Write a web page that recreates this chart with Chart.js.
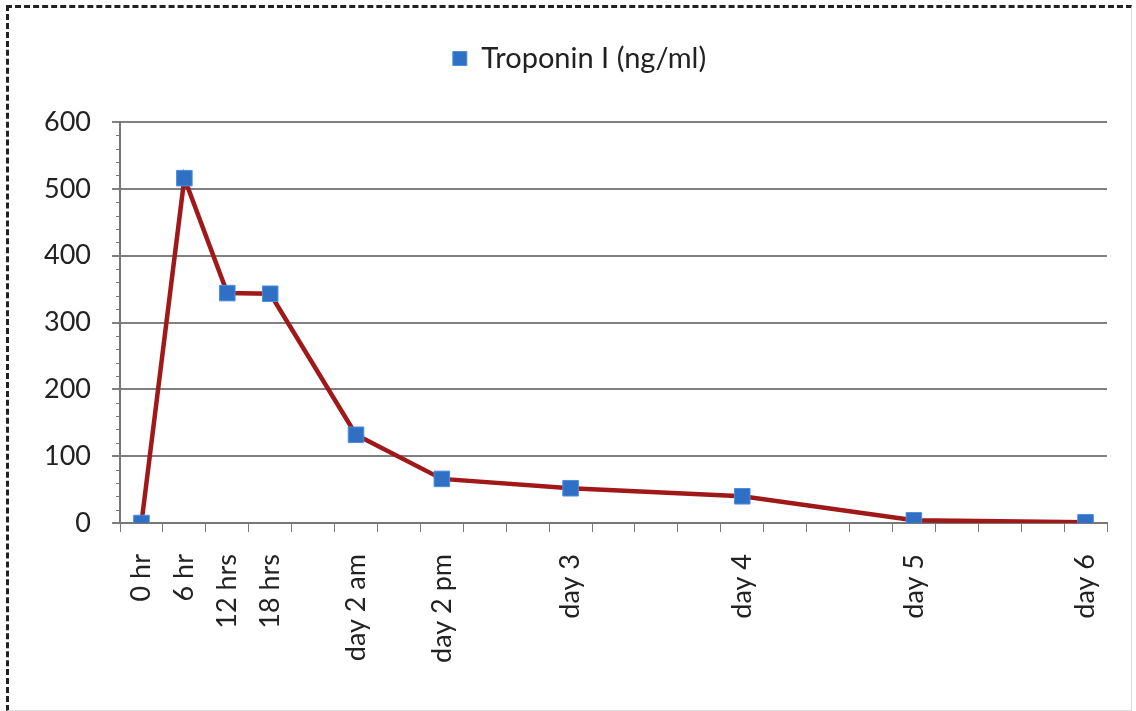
<!DOCTYPE html>
<html>
<head>
<meta charset="utf-8">
<script src="https://cdn.jsdelivr.net/npm/chart.js@4.4.1/dist/chart.umd.min.js"></script>
<style>
  html, body { margin: 0; padding: 0; background: #fff; }
  #wrap { position: relative; width: 1136px; height: 711px; }
  #frame {
    position: absolute; left: 6px; top: 5px; width: 1122px; height: 702px;
    border-top: 3px dashed #222; border-left: 3px dashed #222;
    border-right: 1px solid #ddd; border-bottom: 1px solid #ddd;
    pointer-events: none;
  }
  canvas { position: absolute; left: 0; top: 0; }
</style>
</head>
<body>
<div id="wrap">
  <canvas id="troponinChart" width="1136" height="711"></canvas>
  <div id="frame"></div>
</div>
<script>
// one slot per 6 hours, empty labels fill the gaps
const timeLabels = [
    "0 hr", "6 hr", "12 hrs", "18 hrs", "", "day 2 am", "", "day 2 pm",
    "", "", "day 3", "", "", "", "day 4", "", "", "", "day 5", "", "", "", "day 6"
];
const troponinValues = [
    0, 516, 344, 343, null, 132, null, 66,
    null, null, 52, null, null, null, 40, null, null, null, 4, null, null, null, 1
];
const seriesName = "Troponin I (ng/ml)";
const yMin = 0, yMax = 600, yStep = 100;

const fontFamily = "Lato, 'Open Sans', sans-serif";

// little minor ticks on the value axis
const minorTicks = {
    id: "minorTicks",
    afterDraw(chart) {
        const y = chart.scales.y;
        const ctx = chart.ctx;
        ctx.save();
        ctx.strokeStyle = "#777";
        ctx.lineWidth = 1;
        for (let v = yMin; v <= yMax; v += 20) {
            if (v % yStep === 0) continue;
            const py = Math.round(y.getPixelForValue(v)) + 0.5;
            ctx.beginPath();
            ctx.moveTo(y.right - 4, py);
            ctx.lineTo(y.right, py);
            ctx.stroke();
        }
        ctx.restore();
    }
};

// legend sits a bit right of the canvas centre in the original
const nudgeLegend = {
    id: "nudgeLegend",
    afterLayout(chart) {
        chart.legend.left += 26;
        chart.legend.right += 26;
    }
};

const ctx = document.getElementById("troponinChart").getContext("2d");
new Chart(ctx, {
    type: "line",
    data: {
        labels: timeLabels,
        datasets: [{
            label: seriesName,
            data: troponinValues,
            spanGaps: true,
            borderColor: "#a01818",
            borderWidth: 4.5,
            backgroundColor: "#2f6fc4",
            pointStyle: "rect",
            pointRadius: 11,
            pointBackgroundColor: "#2f6fc4",
            pointBorderColor: "#4a8fe0",
            pointBorderWidth: 1,
            tension: 0
        }]
    },
    options: {
        responsive: false,
        animation: false,
        layout: { padding: { left: 0, right: 29, top: 22, bottom: 28 } },
        plugins: {
            legend: {
                display: true,
                labels: {
                    usePointStyle: true,
                    pointStyle: "rect",
                    boxWidth: 14,
                    boxHeight: 14,
                    color: "#222",
                    font: { family: fontFamily, size: 29 },
                    padding: 22
                }
            },
            // empty spacer between legend and plot
            subtitle: {
                display: true,
                text: " ",
                weight: 500,
                font: { size: 10, lineHeight: 1 },
                padding: { top: 14, bottom: 15 }
            },
            tooltip: { enabled: false }
        },
        scales: {
            x: {
                offset: true,
                grid: {
                    offset: true,
                    drawOnChartArea: false,
                    drawTicks: true,
                    tickLength: 9,
                    color: "#777",
                    lineWidth: 1
                },
                border: { color: "#777", width: 2 },
                ticks: {
                    autoSkip: false,
                    minRotation: 90,
                    maxRotation: 90,
                    padding: 22,
                    color: "#222",
                    font: { family: fontFamily, size: 27 }
                },
                afterFit(scale) {
                    scale.height = 160;
                    scale.paddingRight = 0;
                    scale.paddingLeft = 0;
                }
            },
            y: {
                min: yMin,
                max: yMax,
                ticks: {
                    stepSize: yStep,
                    padding: 21,
                    color: "#222",
                    font: { family: fontFamily, size: 27 }
                },
                grid: {
                    color: "#808080",
                    lineWidth: 2,
                    tickLength: 8
                },
                border: { color: "#777", width: 2 },
                afterFit(scale) { scale.width = 120; }
            }
        }
    },
    plugins: [minorTicks, nudgeLegend]
});
</script>
</body>
</html>
